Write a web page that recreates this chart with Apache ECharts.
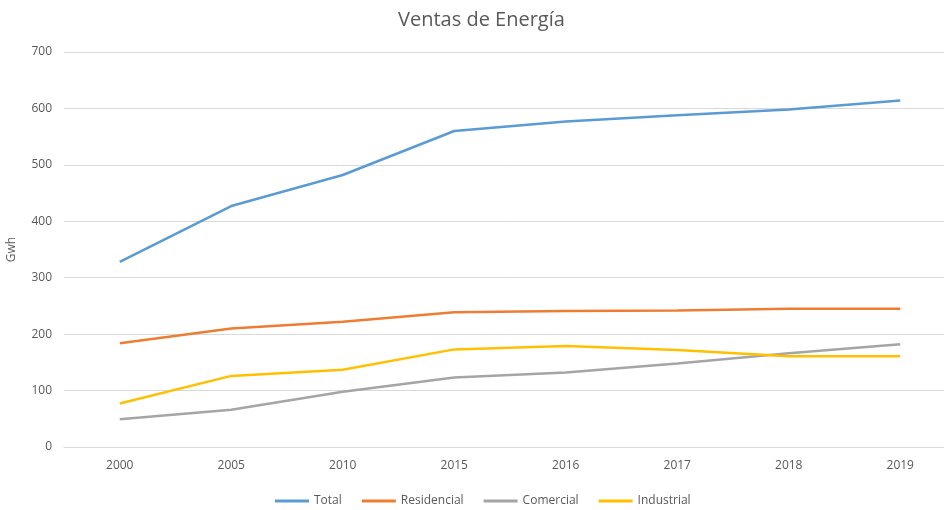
<!DOCTYPE html>
<html>
<head>
<meta charset="utf-8">
<script src="https://cdn.jsdelivr.net/npm/echarts@6/dist/echarts.min.js"></script>
<style>
  html, body { margin: 0; padding: 0; background: #fff; }
  #chart { width: 944px; height: 510px; }
</style>
</head>
<body>
<div id="chart"></div>
<script>
// datos del gráfico
const years = ['2000', '2005', '2010', '2015', '2016', '2017', '2018', '2019']
const total = [328, 427, 482, 560, 577, 588, 598, 614]
const residencial = [184, 210, 222, 239, 241, 242, 245, 245]
const comercial = [49, 66, 98, 123, 132, 148, 166, 182]
const industrial = [77, 126, 137, 173, 179, 172, 161, 161]
const yTicks = [0, 100, 200, 300, 400, 500, 600, 700]

const fontFamily = 'Open Sans, Liberation Sans, sans-serif'
const textColor = '#595959'

const chart = echarts.init(document.getElementById('chart'))

const mkLine = (name, data, color) => ({
  name,
  type: 'line',
  data,
  showSymbol: false,
  symbol: 'none',
  lineStyle: { color, width: 2.5 },
  itemStyle: { color },
  animation: false
})

const option = {
  title: {
    text: 'Ventas de Energía',
    left: 393,
    top: 5,
    textStyle: { fontFamily, fontSize: 20, fontWeight: 'normal', color: textColor }
  },
  legend: {
    bottom: -2,
    left: 270,
    icon: 'rect',
    itemWidth: 34,
    itemHeight: 3,
    itemGap: 20,
    textStyle: { fontFamily, fontSize: 12, color: textColor },
    data: ['Total', 'Residencial', 'Comercial', 'Industrial']
  },
  grid: {
    left: 64,
    top: 52,
    right: -12,
    bottom: 63,
    outerBoundsMode: 'none',
    containLabel: false
  },
  xAxis: {
    type: 'category',
    data: years,
    boundaryGap: true,
    axisLine: { show: true, lineStyle: { color: '#d9d9d9' } },
    axisTick: { show: false },
    axisLabel: { fontFamily, fontSize: 12, color: textColor, margin: 13 }
  },
  yAxis: {
    type: 'value',
    min: yTicks[0],
    max: yTicks[yTicks.length - 1],
    interval: 100,
    name: 'Gwh',
    nameLocation: 'middle',
    nameGap: 46,
    nameRotate: 90,
    nameTextStyle: { fontFamily, fontSize: 12, color: textColor },
    axisLine: { show: false },
    axisTick: { show: false },
    axisLabel: { fontFamily, fontSize: 12, color: textColor, margin: 12 },
    splitLine: { lineStyle: { color: '#d9d9d9', width: 1 } }
  },
  series: [
    mkLine('Total', total, '#5B9BD5'),
    mkLine('Residencial', residencial, '#ED7D31'),
    mkLine('Comercial', comercial, '#A5A5A5'),
    mkLine('Industrial', industrial, '#FFC000')
  ]
}

chart.setOption(option)
window.addEventListener('resize', () => chart.resize())
</script>
</body>
</html>
